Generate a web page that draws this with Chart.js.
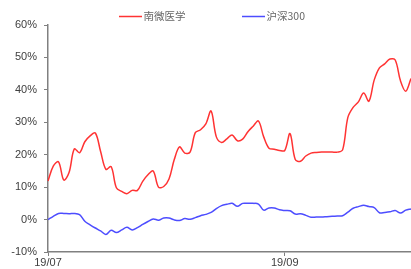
<!DOCTYPE html>
<html>
<head>
<meta charset="utf-8">
<script src="https://cdn.jsdelivr.net/npm/chart.js@4.4.0/dist/chart.umd.min.js"></script>
<style>
  html, body { margin: 0; padding: 0; background: #ffffff; }
  #wrap { width: 411px; height: 269px; }
</style>
</head>
<body>
<div id="wrap"><canvas id="c" width="411" height="269"></canvas></div>
<script>
// Trading days (MM-DD, 2019)
const dates = [
  '07-01','07-02','07-03','07-04','07-05','07-08','07-09','07-10','07-11','07-12',
  '07-15','07-16','07-17','07-18','07-19','07-22','07-23','07-24','07-25','07-26',
  '07-29','07-30','07-31','08-01','08-02','08-05','08-06','08-07','08-08','08-09',
  '08-12','08-13','08-14','08-15','08-16','08-19','08-20','08-21','08-22','08-23',
  '08-26','08-27','08-28','08-29','08-30','09-02','09-03','09-04','09-05','09-06',
  '09-09','09-10','09-11','09-12','09-16','09-17','09-18','09-19','09-20','09-23',
  '09-24','09-25','09-26','09-27','09-30','10-08','10-09','10-10','10-11','10-14'
];

// 南微医学 cumulative return (%)
const nanwei = [
  11.9, 16.5, 17.8, 12.2, 14.5, 21.8, 20.6, 24.0, 25.8, 26.7,
  21.0, 15.5, 16.3, 9.8, 8.7, 8.0, 9.0, 9.0, 11.8, 13.8,
  15.0, 10.0, 10.2, 12.5, 18.5, 22.4, 20.5, 20.8, 26.8, 27.7,
  29.5, 33.5, 25.5, 23.8, 24.9, 26.1, 24.3, 24.8, 27.1, 28.8,
  30.4, 25.5, 22.0, 21.7, 21.3, 21.3, 26.5, 18.5, 18.0, 19.6,
  20.5, 20.7, 20.8, 20.8, 20.8, 20.8, 21.5, 31.5, 34.6, 36.3,
  39.0, 36.5, 43.0, 46.8, 48.0, 49.5, 49.2, 42.8, 39.6, 43.5
];

// 沪深300 cumulative return (%)
const hs300 = [
  0.0, 1.0, 1.9, 1.9, 1.8, 1.9, 1.5, -0.5, -1.6, -2.6,
  -3.5, -4.6, -3.3, -4.0, -3.2, -2.4, -3.2, -2.5, -1.5, -0.6,
  0.2, -0.2, 0.5, 0.5, -0.1, -0.3, 0.3, 0.1, 0.6, 1.2,
  1.6, 2.2, 3.4, 4.3, 4.7, 5.0, 4.1, 5.0, 5.0, 5.0,
  4.8, 2.9, 3.6, 3.6, 3.0, 2.8, 2.7, 1.7, 1.8, 1.3,
  0.7, 0.8, 0.8, 0.9, 1.0, 1.1, 1.2, 2.3, 3.5, 4.0,
  4.4, 4.0, 3.7, 2.1, 2.2, 2.4, 2.8, 2.0, 2.9, 3.3
];

const seriesNames = ['南微医学', '沪深300'];
const tickDates = ['07-01', '09-02'];
const tickLabels = ['19/07', '19/09'];
const yTicks = [-10, 0, 10, 20, 30, 40, 50, 60];

const RED = 'rgb(255,51,51)';
const BLUE = 'rgb(77,77,255)';
const AXIS = '#808080';
const TXT = '#404040';

const legendPlugin = {
  id: 'customLegend',
  afterDraw(chart) {
    const ctx = chart.ctx;
    const items = [
      { x: 119, color: RED, text: seriesNames[0] },
      { x: 242, color: BLUE, text: seriesNames[1] }
    ];
    const y = 16.5;
    ctx.save();
    ctx.font = '10.5px "Noto Sans CJK SC", "Liberation Sans", sans-serif';
    ctx.textBaseline = 'middle';
    ctx.textAlign = 'left';
    items.forEach(it => {
      ctx.strokeStyle = it.color;
      ctx.lineWidth = 1.5;
      ctx.beginPath();
      ctx.moveTo(it.x, y);
      ctx.lineTo(it.x + 23, y);
      ctx.stroke();
      ctx.fillStyle = '#666666';
      ctx.fillText(it.text, it.x + 24.5, y);
    });
    ctx.restore();
  }
};

new Chart(document.getElementById('c'), {
  type: 'line',
  data: {
    labels: dates,
    datasets: [
      { label: seriesNames[0], data: nanwei, borderColor: RED, borderWidth: 1.5,
        pointRadius: 0, tension: 0.35, fill: false },
      { label: seriesNames[1], data: hs300, borderColor: BLUE, borderWidth: 1.5,
        pointRadius: 0, tension: 0.35, fill: false }
    ]
  },
  options: {
    responsive: false,
    animation: false,
    devicePixelRatio: 1,
    layout: { padding: { top: 25, right: 0, left: 0, bottom: 0 } },
    plugins: { legend: { display: false }, tooltip: { enabled: false } },
    scales: {
      x: {
        type: 'category',
        offset: false,
        afterBuildTicks(axis) {
          axis.ticks = tickDates.map(d => ({ value: dates.indexOf(d) }));
        },
        afterFit(axis) { axis.height = 17; },
        grid: { drawOnChartArea: false, drawTicks: true, tickLength: 4, color: AXIS, lineWidth: 1 },
        border: { display: true, color: AXIS, width: 1.5 },
        ticks: {
          autoSkip: false, maxRotation: 0, padding: 0,
          color: TXT, font: { family: '"Liberation Sans", Arial, sans-serif', size: 11 },
          callback: (v, i) => tickLabels[i]
        }
      },
      y: {
        min: yTicks[0], max: yTicks[yTicks.length - 1],
        afterBuildTicks(axis) { axis.ticks = yTicks.map(v => ({ value: v })); },
        afterFit(axis) { axis.width = 48; },
        grid: { drawOnChartArea: false, drawTicks: true, tickLength: 4, color: AXIS, lineWidth: 1 },
        border: { display: true, color: AXIS, width: 1.5 },
        ticks: {
          padding: 7, color: TXT,
          font: { family: '"Liberation Sans", Arial, sans-serif', size: 11 },
          callback: v => v + '%'
        }
      }
    }
  },
  plugins: [legendPlugin]
});
</script>
</body>
</html>
